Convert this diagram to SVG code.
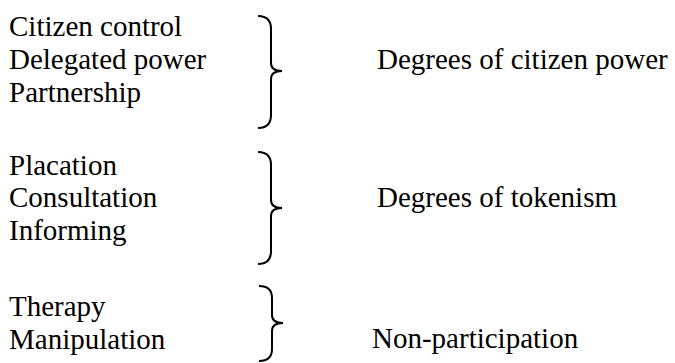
<svg xmlns="http://www.w3.org/2000/svg" width="675" height="363" viewBox="0 0 675 363">
<rect width="675" height="363" fill="#fff"/>
<text x="9" y="36" font-family="Liberation Serif" font-size="29">Citizen control</text>
<text x="9" y="69" font-family="Liberation Serif" font-size="29">Delegated power</text>
<text x="9" y="102" font-family="Liberation Serif" font-size="29">Partnership</text>
<text x="9" y="175" font-family="Liberation Serif" font-size="29">Placation</text>
<text x="9" y="207" font-family="Liberation Serif" font-size="29">Consultation</text>
<text x="9" y="240" font-family="Liberation Serif" font-size="29">Informing</text>
<text x="9" y="316" font-family="Liberation Serif" font-size="29">Therapy</text>
<text x="9" y="349" font-family="Liberation Serif" font-size="29">Manipulation</text>
<text x="377" y="69" font-family="Liberation Serif" font-size="29">Degrees of citizen power</text>
<text x="377" y="207" font-family="Liberation Serif" font-size="29">Degrees of tokenism</text>
<text x="372" y="348" font-family="Liberation Serif" font-size="29">Non-participation</text>
<g id="connectors" fill="none" stroke="#000" stroke-width="2">
<path d="M258,16 Q271,16 271,29 L271,63 Q271,71 282,71 Q271,71 271,79 L271,115 Q271,128 258,128"/>
<path d="M258,152 Q271,152 271,165 L271,200 Q271,208 282,208 Q271,208 271,216 L271,251 Q271,264 258,264"/>
<path d="M259,286 Q272,286 272,298 L272,315 Q272,323 283,323 Q272,323 272,331 L272,349 Q272,361 259,361"/>
</g>
</svg>
